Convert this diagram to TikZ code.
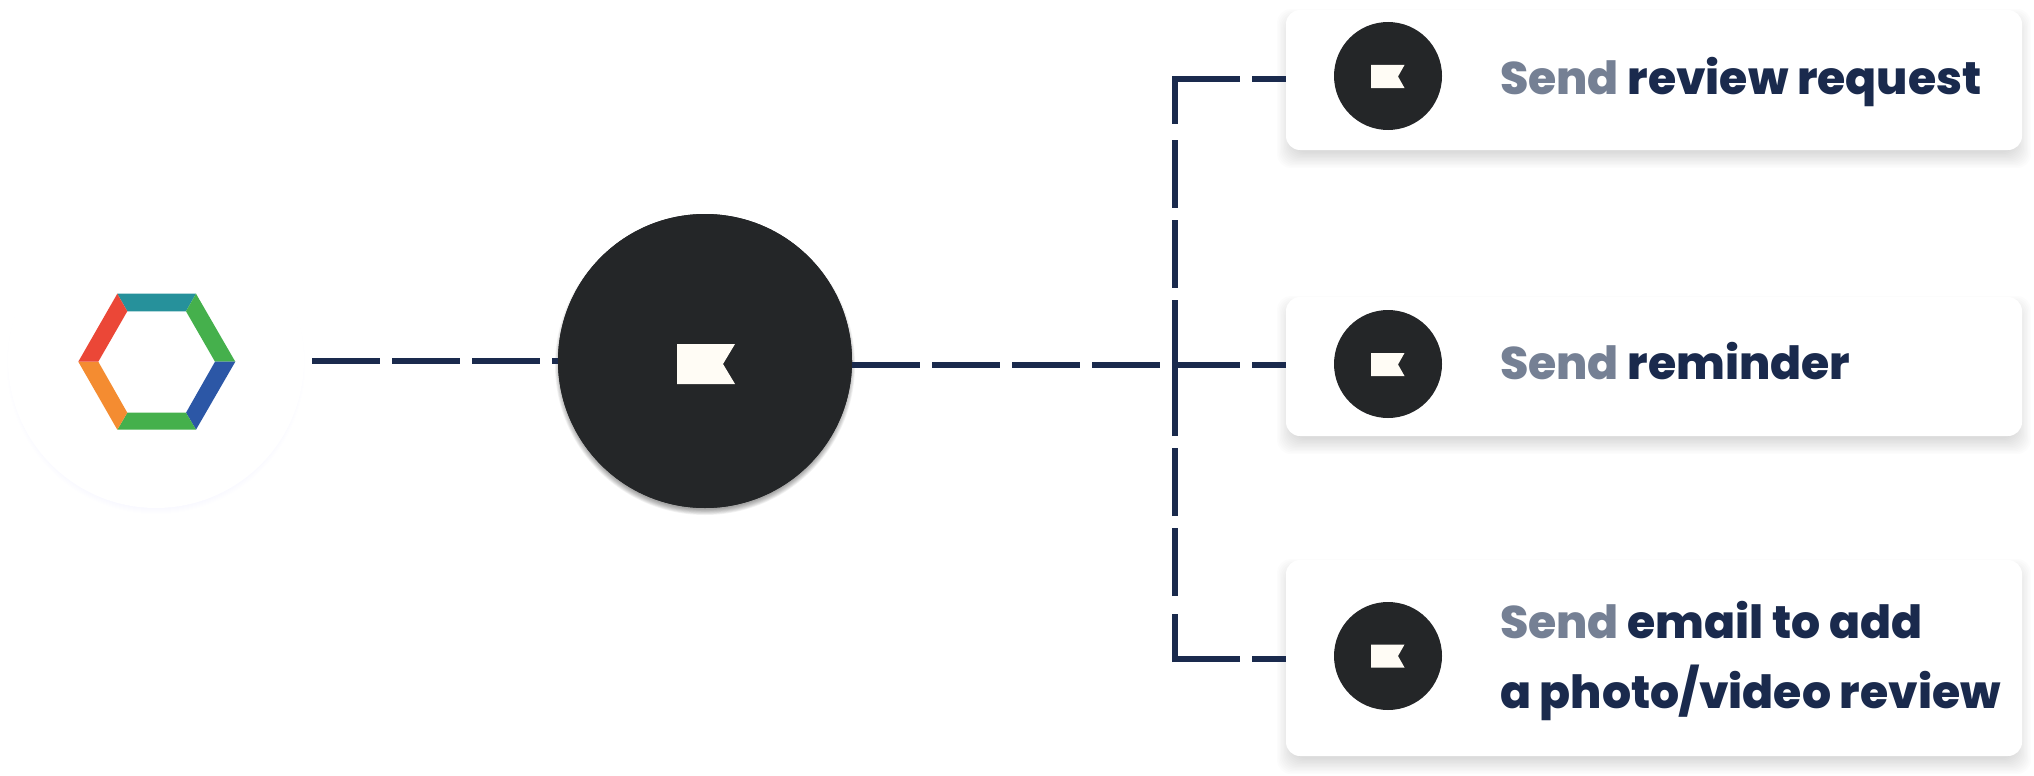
\documentclass[tikz,border=0pt]{standalone}
\usepackage{fontspec}
\setmainfont{Poppins}
\newfontfamily\popx{Poppins ExtraBold}
\definecolor{ink}{HTML}{1A2A4D}
\definecolor{greytx}{HTML}{758094}
\definecolor{coal}{HTML}{242628}
\definecolor{flagc}{HTML}{FFFCF5}
\definecolor{hexteal}{HTML}{26919B}
\definecolor{hexgreen}{HTML}{45B04C}
\definecolor{hexred}{HTML}{EB4737}
\definecolor{hexorange}{HTML}{F48C31}
\definecolor{hexblue}{HTML}{2C57A6}
\tikzset{
  x=1pt,y=-1pt,
  cardbox/.style={draw=none,fill=white,rounded corners=14pt,minimum width=736pt,inner sep=0pt,outer sep=0pt},
  badge/.style={circle,fill=coal,minimum size=108pt,inner sep=0pt,outer sep=0pt},
  hubnode/.style={circle,fill=coal,minimum size=294pt,inner sep=0pt,outer sep=0pt},
  ghost/.style={circle,fill=white,minimum size=296pt,inner sep=0pt,outer sep=0pt},
  conn/.style={draw=ink,line width=6.2pt},
  longdash/.style={conn,dash pattern=on 68pt off 12pt},
  lab/.style={inner sep=0pt,outer sep=0pt,anchor=base west,text=ink,font=\fontsize{45.7}{70}\selectfont\popx,align=left},
}
\newcommand{\send}{\textcolor{greytx}{Send}}
% flag mark: x y width height notchx
\newcommand{\flagmark}[5]{\fill[flagc] (#1,#2) -- ++(#3,0) -- ++(#5-#3,#4/2) -- ++(#3-#5,#4/2) -- ++(-#3,0) -- cycle;}
% soft shadow of a rounded box: cx cy w h
\newcommand{\boxshadow}[4]{\foreach \i in {0,...,11}{\fill[black,opacity=0.011,rounded corners=14pt] (#1-#3/2-9+\i*1.4,#2-#4/2+8-9+\i*1.4) rectangle (#1+#3/2+9-\i*1.4,#2+#4/2+9+9-\i*1.4);}}
\begin{document}
\begin{tikzpicture}
\useasboundingbox (0,0) rectangle (2034,776);
\fill[white] (0,0) rectangle (2034,776);

% shadows
\foreach \i in {0,...,7}{\fill[blue!45!white,opacity=0.006] (156,365) circle ({149-\i});}
\foreach \i in {0,...,7}{\fill[black,opacity=0.05] (705,365) circle ({150-\i*0.8});}
\boxshadow{1654}{80}{736}{140}
\boxshadow{1654}{366.5}{736}{139}
\boxshadow{1654}{658}{736}{196}

% round nodes
\node[ghost] (src) at (156,360) {};
\node[hubnode] (hub) at (705,361) {};

% coordinates of the connectors
\coordinate (srcout) at (312,361);
\coordinate (hubin) at (558,361);
\coordinate (hubout) at (852,365);
\coordinate (cornerT) at (1172,79);
\coordinate (cornerB) at (1172,659);
\coordinate (vertT) at (1175,76);
\coordinate (vertB) at (1175,662);
\coordinate (mid) at (1175,368);

% connectors, under the nodes
\draw[longdash] (srcout) -- (hubin);
\draw[longdash] (hubout) -- (1286,365);
\draw[longdash] (cornerT) -- (1286,79);
\draw[longdash] (cornerB) -- (1286,659);
\draw[conn,dash pattern=on 48pt off 16pt on 68pt off 12pt on 68pt off 12pt on 68pt off 500pt] (vertT) -- (mid);
\draw[conn,dash pattern=on 48pt off 18pt on 68pt off 12pt on 68pt off 12pt on 68pt off 500pt] (vertB) -- (mid);

\node[hubnode] at (hub) {};
\node[cardbox,minimum height=140pt] (c1) at (1654,80) {};
\node[cardbox,minimum height=139pt] (c2) at (1654,366.5) {};
\node[cardbox,minimum height=196pt] (c3) at (1654,658) {};

\node[badge] (b1) at (1388,76) {};
\node[badge] (b2) at (1388,364) {};
\node[badge] (b3) at (1388,656) {};

\flagmark{677}{344}{58}{40}{46}
\flagmark{1371}{65}{33.5}{23}{27}
\flagmark{1371}{353}{33.5}{23}{27}
\flagmark{1371}{644.5}{33.5}{23}{27}

% hexagon logo
\fill[hexteal] (117.3,293.7) -- (196,293.7) -- (186,311.3) -- (127.3,311.3) -- cycle;
\fill[hexgreen] (196,293.7) -- (235.3,361.7) -- (215,361.7) -- (186,311.3) -- cycle;
\fill[hexblue] (235.3,361.7) -- (196,429.7) -- (186,412.7) -- (215,361.7) -- cycle;
\fill[hexgreen] (196,429.7) -- (117.3,429.7) -- (127.3,412.7) -- (186,412.7) -- cycle;
\fill[hexorange] (117.3,429.7) -- (78.3,361.7) -- (98.3,361.7) -- (127.3,412.7) -- cycle;
\fill[hexred] (78.3,361.7) -- (117.3,293.7) -- (127.3,311.3) -- (98.3,361.7) -- cycle;

% labels
\node[lab] (t1) at (1500,94) {\send{} review request};
\node[lab] (t2) at (1500,379) {\send{} reminder};
\node[lab] (t3) at (1500,638) {\send{} email to add};
\node[lab] (t4) at (1500,708) {a photo/video review};
\end{tikzpicture}
\end{document}
